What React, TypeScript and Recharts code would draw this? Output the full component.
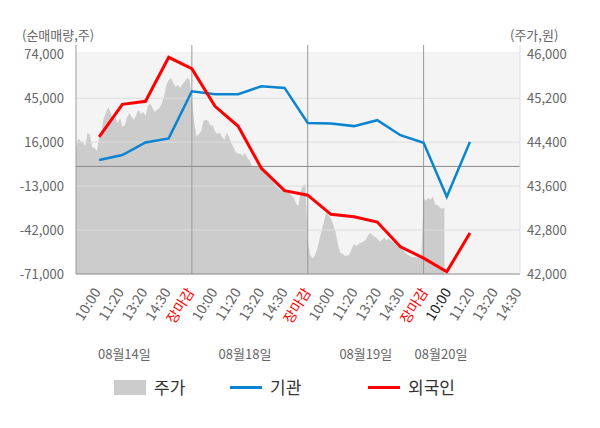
import React from 'react';
import {
  ComposedChart, Area, Line, XAxis, YAxis, ReferenceLine, ReferenceArea, Legend,
} from 'recharts';

const FONT = '"Noto Sans CJK KR", "Noto Sans", sans-serif';

// 주가 (price, 원) sampled every 0.1 slot, per trading day
const price0814 = [
  44300, 44460, 44420, 44390, 44330, 44570, 44530, 44310, 44300, 44240,
  44510, 44600, 44840, 44950, 45040, 44930, 44810, 44840, 44750, 44840,
  44680, 44710, 44840, 44930, 44860, 44810, 44900, 44990, 44910, 44950,
  44880, 45060, 45110, 45020, 44950, 44990, 45020, 45100, 45240, 45440,
  45530, 45570, 45480, 45410, 45440, 45390, 45460, 45510, 45570, 45530,
];
const price0818 = [
  45210, 44770, 44510, 44550, 44600, 44790, 44810, 44790, 44700, 44710,
  44600, 44550, 44570, 44500, 44440, 44570, 44500, 44390, 44300, 44220,
  44190, 44190, 44150, 44210, 44110, 44060, 43950, 43950, 43970, 43950,
  43930, 43880, 43810, 43770, 43730, 43680, 43620, 43570, 43540, 43520,
  43510, 43490, 43480, 43430, 43390, 43280, 43240, 43510, 43610, 43640,
];
const price0819 = [
  42620, 42350, 42280, 42330, 42440, 42620, 42790, 42950, 43130, 43060,
  43010, 42900, 42770, 42550, 42390, 42370, 42330, 42330, 42350, 42460,
  42550, 42510, 42550, 42570, 42590, 42620, 42700, 42750, 42700, 42680,
  42640, 42590, 42620, 42660, 42620, 42640, 42610, 42570, 42530, 42500,
  42480, 42440, 42390, 42350, 42330, 42310, 42310, 42300, 42300, 42280,
];
const price0820 = [43390, 43330, 43390, 43350, 43410, 43260, 43260, 43210, 43190, 43210];

// 순매매량 (net trading volume, 주) at each time slot (10:00 of 08/14 → 11:20 of 08/20)
const institution = [
  4200, 7500, 15800, 18500, 49600,
  47700, 47700, 52900, 51800, 28700,
  28300, 26600, 30500, 20600, 15600,
  -20000, 16200,
];
const foreigner = [
  19500, 41000, 43000, 72000, 64500,
  39700, 26500, -1300, -16000, -19000,
  -31600, -33200, -36700, -53000, -60500,
  -69500, -44000,
];

const timeLabels = [
  '10:00', '11:20', '13:20', '14:30', '장마감',
  '10:00', '11:20', '13:20', '14:30', '장마감',
  '10:00', '11:20', '13:20', '14:30', '장마감',
  '10:00', '11:20', '13:20', '14:30',
];
const currentLabelIndex = 15;
const dateLabels = ['08월14일', '08월18일', '08월19일', '08월20일'];
const dateTickPos = [2.07, 7.23, 12.4, 15.62];
const sessionBreaks = [5, 10, 15];

const leftTicks = [74000, 45000, 16000, -13000, -42000, -71000];
const rightTicks = [46000, 45200, 44400, 43600, 42800, 42000];
const gridValues = [45000, 16000, -13000, -42000];

const legendItems = [
  { name: '주가', kind: 'rect', color: '#cccccc' },
  { name: '기관', kind: 'line', color: '#0a84d0' },
  { name: '외국인', kind: 'line', color: '#ff0000' },
];
const legendLeft = [114, 230, 368];

const SUB = 10;
const priceSeries = [...price0814, ...price0818, ...price0819, ...price0820];
const rows: any[] = [];
const rowCount = Math.max(priceSeries.length, institution.length * SUB + 1);
for (let i = 0; i < rowCount; i++) {
  const row: any = { k: i / SUB };
  if (i < priceSeries.length) row.price = priceSeries[i];
  if (i % SUB === 0 && i > 0 && i / SUB <= institution.length) {
    row.inst = institution[i / SUB - 1];
    row.foreign = foreigner[i / SUB - 1];
  }
  rows.push(row);
}

const fmt = (v: number) => v.toLocaleString('en-US');

const TimeTick = (props: any) => {
  const { x, y, index } = props;
  const label = timeLabels[index];
  const color = label === '장마감' ? '#ff0000' : index === currentLabelIndex ? '#222' : '#666';
  return (
    <text
      transform={`translate(${x + 2},${y + 18}) rotate(-58)`}
      textAnchor="end"
      fontSize={14}
      fontFamily={FONT}
      fill={color}
    >
      {label}
    </text>
  );
};

const DateTick = (props: any) => {
  const { x, y, index } = props;
  return (
    <text x={x} y={y + 19} textAnchor="middle" dominantBaseline="central" fontSize={13} fontFamily={FONT} fill="#666">
      {dateLabels[index]}
    </text>
  );
};

const AxisTitle = (props: any) => {
  const { viewBox, value, dx } = props;
  return (
    <text x={viewBox.x + dx} y={viewBox.y - 11} dominantBaseline="central" fontSize={13} fontFamily={FONT} fill="#666">
      {value}
    </text>
  );
};

const LegendContent = () => (
  <div style={{ position: 'relative', width: 600, height: 26, fontFamily: FONT }}>
    {legendItems.map((it, i) => (
      <div
        key={it.name}
        style={{ position: 'absolute', left: legendLeft[i], top: 0, height: 26, display: 'flex', alignItems: 'center' }}
      >
        <span
          style={{
            display: 'inline-block',
            width: 32,
            height: it.kind === 'rect' ? 15 : 3,
            background: it.color,
          }}
        />
        <span style={{ marginLeft: 8, fontSize: 17, color: '#333', lineHeight: '26px' }}>{it.name}</span>
      </div>
    ))}
  </div>
);

export default function App() {
  return (
    <div style={{ position: 'absolute', left: 0, top: 0, width: 600, height: 428, background: '#fff' }}>
      <ComposedChart width={600} height={428} data={rows} margin={{ top: 45, right: 0, bottom: 54, left: 0 }}>
        <XAxis xAxisId="data" type="number" dataKey="k" domain={[0, 19.16]} height={0} hide />
        <XAxis
          xAxisId="t1"
          type="number"
          dataKey="k"
          domain={[0, 19]}
          ticks={timeLabels.map((_, i) => i + 1)}
          interval={0}
          height={60}
          tickLine={false}
          tickSize={0}
          tickMargin={0}
          axisLine={{ stroke: '#888' }}
          tick={<TimeTick />}
        />
        <XAxis
          xAxisId="t2"
          type="number"
          dataKey="k"
          domain={[0, 19]}
          ticks={dateTickPos}
          interval={0}
          height={40}
          tickLine={false}
          tickSize={0}
          tickMargin={0}
          axisLine={false}
          tick={<DateTick />}
        />
        <YAxis
          yAxisId="left"
          type="number"
          domain={[-71000, 80130]}
          ticks={leftTicks}
          interval={0}
          width={76}
          tickLine={false}
          tickSize={0}
          tickMargin={12}
          axisLine={{ stroke: '#999' }}
          tick={{ fontSize: 13, fill: '#666', fontFamily: FONT }}
          tickFormatter={fmt}
          label={<AxisTitle value="(순매매량,주)" dx={22} />}
        />
        <YAxis
          yAxisId="right"
          orientation="right"
          type="number"
          domain={[42000, 46169]}
          ticks={rightTicks}
          interval={0}
          width={80}
          tickLine={false}
          tickSize={0}
          tickMargin={7}
          axisLine={{ stroke: '#ddd' }}
          tick={{ fontSize: 13, fill: '#666', fontFamily: FONT }}
          tickFormatter={fmt}
          label={<AxisTitle value="(주가,원)" dx={-10} />}
        />
        <ReferenceArea
          xAxisId="data"
          yAxisId="left"
          x1={0}
          x2={19.16}
          y1={-71000}
          y2={75700}
          fill="#f4f4f4"
          fillOpacity={1}
          stroke="none"
          ifOverflow="visible"
          zIndex={10}
        />
        <Area
          xAxisId="data"
          yAxisId="right"
          dataKey="price"
          type="linear"
          fill="#cccccc"
          fillOpacity={1}
          stroke="none"
          isAnimationActive={false}
          dot={false}
          activeDot={false}
          zIndex={20}
        />
        {gridValues.map((v) => (
          <ReferenceLine key={v} xAxisId="data" yAxisId="left" y={v} stroke="#dddddd" strokeWidth={1} zIndex={30} />
        ))}
        <ReferenceLine xAxisId="data" yAxisId="left" y={0} stroke="#888" strokeWidth={1} zIndex={31} />
        {sessionBreaks.map((v) => (
          <ReferenceLine key={v} xAxisId="data" yAxisId="left" x={v} stroke="#999" strokeWidth={1} zIndex={31} />
        ))}
        <Line
          xAxisId="data"
          yAxisId="left"
          dataKey="inst"
          type="linear"
          stroke="#0a84d0"
          strokeWidth={2.5}
          dot={false}
          activeDot={false}
          connectNulls
          isAnimationActive={false}
          zIndex={40}
        />
        <Line
          xAxisId="data"
          yAxisId="left"
          dataKey="foreign"
          type="linear"
          stroke="#ff0000"
          strokeWidth={3}
          dot={false}
          activeDot={false}
          connectNulls
          isAnimationActive={false}
          zIndex={41}
        />
        <Legend
          layout="horizontal"
          verticalAlign="middle"
          align="center"
          wrapperStyle={{ top: 374, left: 0, width: 600, height: 26 }}
          content={<LegendContent />}
        />
      </ComposedChart>
    </div>
  );
}
